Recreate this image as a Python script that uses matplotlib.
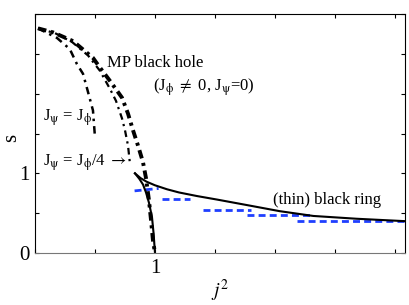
import numpy as np
import matplotlib
matplotlib.use('Agg')
import matplotlib.pyplot as plt

plt.rcParams['font.family'] = 'Liberation Serif'
plt.rcParams['mathtext.fontset'] = 'stix'

# MP black hole, J_psi = 0 (thick dash-dot)
mp_x = [0.025, 0.15, 0.317, 0.483, 0.54, 0.625, 0.725, 0.775, 0.817, 0.858, 0.90, 0.925, 0.95, 0.967, 0.983, 1.0]
mp_s = [2.82, 2.77, 2.66, 2.45, 2.33, 2.16, 1.95, 1.75, 1.54, 1.35, 1.14, 0.94, 0.66, 0.41, 0.16, 0.0]

# J_psi = J_phi / 4
q_x = [0.025, 0.167, 0.308, 0.442, 0.54, 0.625, 0.675, 0.725, 0.75, 0.775, 0.79]
q_s = [2.82, 2.76, 2.65, 2.48, 2.29, 2.06, 1.91, 1.69, 1.54, 1.35, 1.14]

# J_psi = J_phi
e_x = [0.025, 0.183, 0.29, 0.35, 0.40, 0.433, 0.483, 0.50]
e_s = [2.82, 2.70, 2.56, 2.37, 2.25, 2.07, 1.79, 1.45]

# black ring: thin branch and fat branch from the cusp
thin_x = [0.833, 0.88, 0.93, 1.0, 1.1, 1.2, 1.35, 1.52, 1.79, 2.04, 2.32, 2.68, 3.08]
thin_s = [1.0, 0.94, 0.895, 0.85, 0.80, 0.76, 0.715, 0.67, 0.595, 0.525, 0.465, 0.43, 0.40]
fat_x = [0.833, 0.87, 0.90, 0.925, 0.95, 0.975, 0.988, 1.0]
fat_s = [1.0, 0.93, 0.86, 0.76, 0.63, 0.45, 0.25, 0.0]

# blue dashed steps
step_x0 = [0.83, 1.06, 1.40, 1.77, 2.18]
step_x1 = [1.03, 1.29, 1.80, 2.32, 3.08]
step_s0 = [0.78, 0.675, 0.54, 0.475, 0.40]
step_s1 = [0.81, 0.675, 0.54, 0.475, 0.40]

fig = plt.figure(figsize=(4.09, 3.05), dpi=100)
ax = fig.add_axes([0.0856, 0.1705, 0.9044, 0.7835])

for i in range(len(step_x0)):
    ax.plot([step_x0[i], step_x1[i]], [step_s0[i], step_s1[i]], color='#1f3fff',
            lw=2, dashes=(2.5, 1.5))

ax.plot(thin_x, thin_s, color='k', lw=1.5)
ax.plot(fat_x, fat_s, color='k', lw=1.5)
ax.plot(e_x, e_s, color='k', lw=1.8, dashes=(3, 2, 1, 2))
ax.plot(q_x, q_s, color='k', lw=1.6, dashes=(3, 2, 1, 2))
ax.plot(mp_x, mp_s, color='k', lw=2.8, dashes=(2.2, 1.2, 0.8, 1.2))

ax.text(0.60, 2.33, 'MP black hole', fontsize=12)
ax.text(0.983, 2.04, r'(J$_{\mathrm{\phi}}$ $\neq$ 0, J$_{\mathrm{\psi}}$=0)', fontsize=12)
ax.text(0.067, 1.66, r'J$_{\mathrm{\psi}}$ = J$_{\mathrm{\phi}}$', fontsize=12)
ax.text(0.067, 1.10, r'J$_{\mathrm{\psi}}$ = J$_{\mathrm{\phi}}$/4 $\rightarrow$', fontsize=12)
ax.text(1.98, 0.61, '(thin) black ring', fontsize=12)

ax.set_xlim(0, 3.083)
ax.set_ylim(0, 2.99)
ax.set_xticks(np.arange(0, 3.01, 0.5))
ax.set_xticklabels(['', '', '1', '', '', '', ''])
ax.set_yticks(np.arange(0, 3.01, 0.5))
ax.set_yticklabels(['0', '', '1', '', '', '', ''])
ax.tick_params(direction='in', length=3, top=True, right=True, labelsize=15, pad=4)
ax.set_xlabel(r'$j^2$', fontsize=14, labelpad=0)
ax.set_ylabel('s', fontsize=15, va='center')
ax.yaxis.set_label_coords(-0.062, 0.48)
ax.spines['bottom'].set_color('#777777')

fig.savefig('out.png', dpi=100)
